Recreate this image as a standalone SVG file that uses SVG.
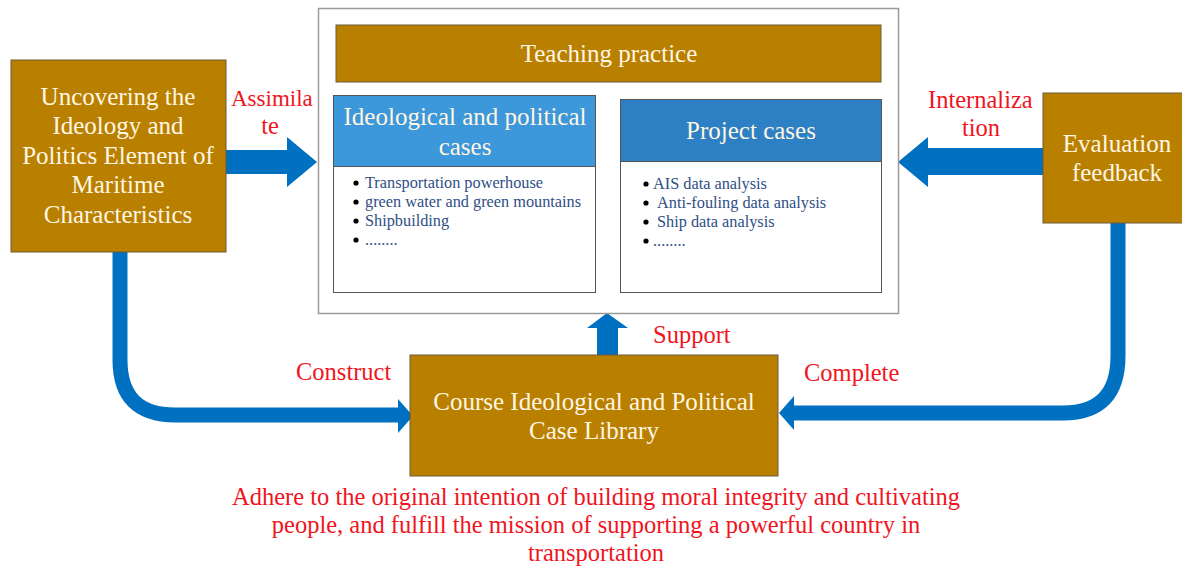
<svg xmlns="http://www.w3.org/2000/svg" width="1182" height="570" viewBox="0 0 1182 570">
<defs>
<style>
.brown{fill:#B98000;stroke:#6b5a3a;stroke-width:1}
.wt{font-family:"Liberation Serif",serif;fill:#FFF6E3;text-anchor:middle}
.red{font-family:"Liberation Serif",serif;fill:#F0141E;font-size:24.5px}
.item{font-family:"Liberation Serif",serif;fill:#2F4F86;font-size:16.3px}
.blt{fill:#000}
.pipe{fill:none;stroke:#0070C0;stroke-width:15}
.arr{fill:#0070C0}
</style>
</defs>
<rect width="1182" height="570" fill="#fff"/>

<g id="connectors">
<polygon class="arr" points="226,150 287,150 287,137 317,162 287,187 287,174 226,174"/>
<polygon class="arr" points="1043,148 928,148 928,137 898,162 928,187 928,175 1043,175"/>
<path class="pipe" d="M120,252 V360 Q120,415 175,415 H400"/>
<polygon class="arr" points="398,399 413,416 398,433"/>
<path class="pipe" d="M1118,223 V356 Q1118,413 1063,413 H792"/>
<polygon class="arr" points="794,396 779,413 794,430"/>
<polygon class="arr" points="597,355 597,328 587,328 607,313 628,328 618,328 618,355"/>
</g>

<g id="outer">
<rect x="318.5" y="8.5" width="580" height="305" fill="#fff" stroke="#9a9a9a" stroke-width="1.5"/>
</g>

<g id="teaching">
<rect class="brown" x="336" y="25" width="545" height="57"/>
<text class="wt" x="609" y="62" font-size="25">Teaching practice</text>
</g>

<g id="ideological">
<rect x="333.5" y="95.5" width="262" height="197" fill="#fff" stroke="#555" stroke-width="1"/>
<rect x="333.5" y="95.5" width="262" height="71" fill="#3C97DB" stroke="#555" stroke-width="1"/>
<text class="wt" x="465" y="125" font-size="25">Ideological and political</text>
<text class="wt" x="465" y="155" font-size="25">cases</text>
<circle class="blt" cx="356" cy="183" r="2.6"/>
<circle class="blt" cx="356" cy="202" r="2.6"/>
<circle class="blt" cx="356" cy="221" r="2.6"/>
<circle class="blt" cx="356" cy="240" r="2.6"/>
<text class="item" x="365" y="188">Transportation powerhouse</text>
<text class="item" x="365" y="207">green water and green mountains</text>
<text class="item" x="365" y="226">Shipbuilding</text>
<text class="item" x="365" y="245">........</text>
</g>

<g id="project">
<rect x="620.5" y="99.5" width="261" height="193" fill="#fff" stroke="#555" stroke-width="1"/>
<rect x="620.5" y="99.5" width="261" height="62" fill="#2E80C4" stroke="#555" stroke-width="1"/>
<text class="wt" x="751" y="139" font-size="25">Project cases</text>
<circle class="blt" cx="646" cy="184" r="2.6"/>
<circle class="blt" cx="646" cy="203" r="2.6"/>
<circle class="blt" cx="646" cy="222" r="2.6"/>
<circle class="blt" cx="646" cy="241" r="2.6"/>
<text class="item" x="653" y="189">AIS data analysis</text>
<text class="item" x="657" y="208">Anti-fouling data analysis</text>
<text class="item" x="657" y="227">Ship data analysis</text>
<text class="item" x="653" y="246">........</text>
</g>

<g id="uncovering">
<rect class="brown" x="11" y="60" width="215" height="192"/>
<text class="wt" x="118" y="105" font-size="25">Uncovering the</text>
<text class="wt" x="118" y="134" font-size="25">Ideology and</text>
<text class="wt" x="118" y="164" font-size="25">Politics Element of</text>
<text class="wt" x="118" y="193" font-size="25">Maritime</text>
<text class="wt" x="118" y="223" font-size="25">Characteristics</text>
</g>

<g id="evaluation">
<rect class="brown" x="1043" y="93" width="145" height="130"/>
<text class="wt" x="1117" y="152" font-size="25">Evaluation</text>
<text class="wt" x="1117" y="181" font-size="25">feedback</text>
</g>

<g id="library">
<rect class="brown" x="410" y="355" width="368" height="121"/>
<text class="wt" x="594" y="410" font-size="25">Course Ideological and Political</text>
<text class="wt" x="594" y="439" font-size="25">Case Library</text>
</g>

<g id="labels">
<text class="red" x="231" y="106" font-size="23" style="font-size:23px">Assimila</text>
<text class="red" x="270" y="134" text-anchor="middle">te</text>
<text class="red" x="928" y="108">Internaliza</text>
<text class="red" x="981" y="136" text-anchor="middle">tion</text>
<text class="red" x="296" y="380">Construct</text>
<text class="red" x="653" y="343">Support</text>
<text class="red" x="804" y="381">Complete</text>
<text class="red" x="596" y="505" text-anchor="middle">Adhere to the original intention of building moral integrity and cultivating</text>
<text class="red" x="596" y="533" text-anchor="middle">people, and fulfill the mission of supporting a powerful country in</text>
<text class="red" x="596" y="561" text-anchor="middle">transportation</text>
</g>
</svg>
